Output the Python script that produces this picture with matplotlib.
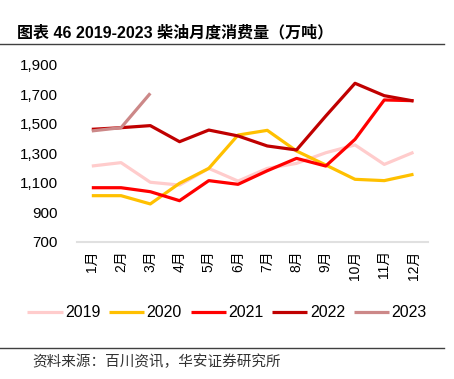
import matplotlib
matplotlib.use('Agg')
import matplotlib.pyplot as plt

# 数据
months = [f"{i}月" for i in range(1, 13)]

y2019 = [1215, 1238, 1105, 1086, 1199, 1113, 1199, 1233, 1305, 1358, 1226, 1308]
y2020 = [1014, 1014, 958, 1098, 1199, 1425, 1457, 1317, 1222, 1125, 1116, 1159]
y2021 = [1068, 1068, 1041, 980, 1116, 1091, 1183, 1267, 1215, 1396, 1663, 1658]
y2022 = [1464, 1475, 1489, 1380, 1459, 1419, 1351, 1324, 1554, 1776, 1692, 1656]
y2023 = [1453, 1475, 1708]

series = [
    ("2019", y2019, "#FFCCCC"),
    ("2020", y2020, "#FFC000"),
    ("2021", y2021, "#FF0000"),
    ("2022", y2022, "#C00000"),
    ("2023", y2023, "#CC8888"),
]

yticks = [700, 900, 1100, 1300, 1500, 1700, 1900]

CJK = ['Liberation Sans', 'Noto Sans CJK SC']
plt.rcParams['font.family'] = CJK

fig = plt.figure(figsize=(4.54, 3.79), dpi=100)
ax = fig.add_axes([0.170, 0.3615, 0.773, 0.467])

x = list(range(len(months)))
for name, vals, color in series:
    ax.plot(x[:len(vals)], vals, color=color, lw=2.3, label=name,
            solid_capstyle='butt')

ax.set_xlim(-0.5, 11.5)
ax.set_ylim(700, 1900)
ax.set_yticks(yticks)
ax.set_yticklabels([f"{v:,}" for v in yticks], fontsize=11)
ax.set_xticks(x)
ax.set_xticklabels(months, rotation=90, fontsize=10)
ax.tick_params(axis='both', length=0)
ax.tick_params(axis='y', pad=14)
ax.tick_params(axis='x', pad=6)

for s in ['top', 'right', 'left']:
    ax.spines[s].set_visible(False)
ax.spines['bottom'].set_color('#E0E0E0')
ax.spines['bottom'].set_linewidth(1.5)

fig.legend(loc='center', bbox_to_anchor=(0.5, 0.175), ncol=5, frameon=False,
           fontsize=11.5, handlelength=2.2, handletextpad=0.15,
           columnspacing=0.55)

# 标题与来源
fig.text(0.038, 0.915, "图表 46 2019-2023 柴油月度消费量（万吨）",
         fontsize=11.5, fontweight='bold', va='center', ha='left')
fig.add_artist(plt.Line2D([0.0, 0.977], [0.884, 0.884], color='#404040', lw=1.0))
fig.add_artist(plt.Line2D([0.0, 0.977], [0.082, 0.082], color='#404040', lw=1.0))
fig.text(0.07, 0.045, "资料来源：百川资讯，华安证券研究所", fontsize=10.5,
         va='center', ha='left', color='#333333')

fig.savefig("out.png", dpi=100)
